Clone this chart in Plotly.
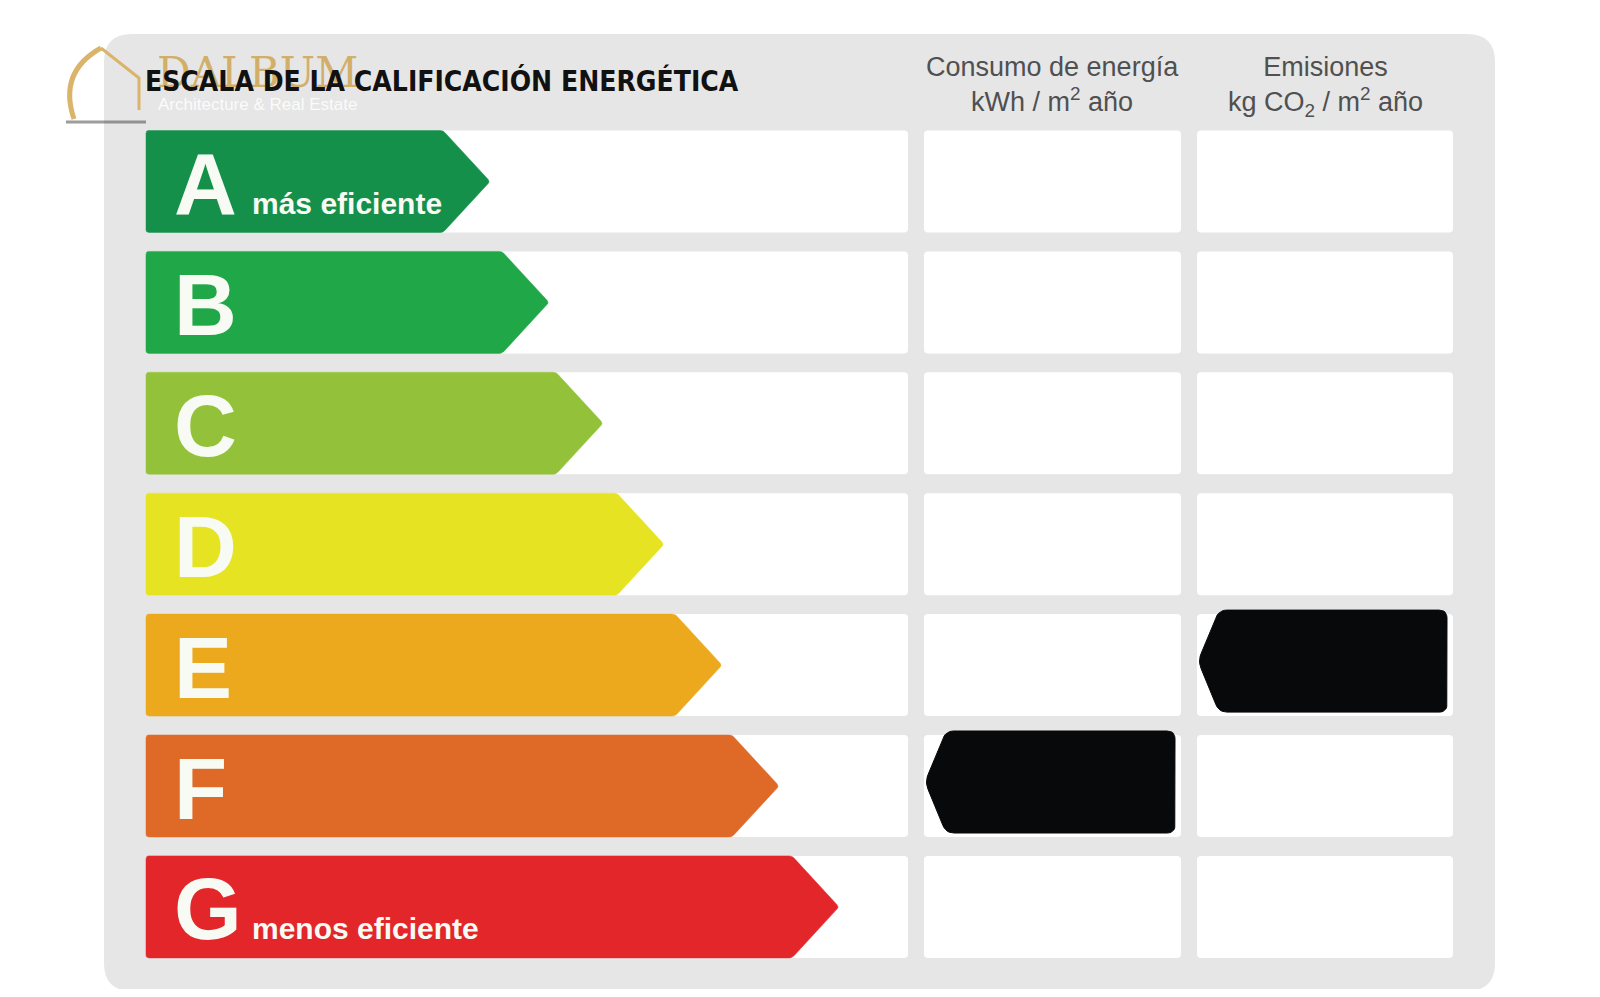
import plotly.graph_objects as go

# ---------------- data ----------------
ratings = ["A", "B", "C", "D", "E", "F", "G"]
rating_colors = ["#15904A", "#20A747", "#93C23A", "#E6E322", "#ECA91D", "#DF6926", "#E3262A"]
arrow_length = [344, 403, 457, 518, 576, 633, 693]        # length of each class arrow
end_labels = {"A": "más eficiente", "G": "menos eficiente"}
title_text = "ESCALA DE LA CALIFICACIÓN ENERGÉTICA"
column_headers = ["Consumo de energía<br>kWh / m<sup>2</sup> año",
                  "Emisiones<br>kg CO<sub>2</sub> / m<sup>2</sup> año"]
consumo_rating = "F"
emisiones_rating = "E"
watermark = "DALBUM"
watermark_sub = "Architecture & Real Estate"

# ---------------- layout geometry ----------------
W, H = 1600, 997
OFF = 8                      # page body margin compensation
ROW0, PITCH, ROW_H = 130.5, 120.9, 102
X0 = 146
LEFT_CELL_R = 908
COLS = [(924, 1181), (1197, 1453)]
TIP = 47
PANEL = (104, 34, 1495, 991)
GREY = "#E6E6E6"

fig = go.Figure()
shapes = []
annotations = []


def rrect(x0, y0, x1, y1, r):
    return (f"M {x0+r},{y0} L {x1-r},{y0} Q {x1},{y0} {x1},{y0+r} "
            f"L {x1},{y1-r} Q {x1},{y1} {x1-r},{y1} L {x0+r},{y1} "
            f"Q {x0},{y1} {x0},{y1-r} L {x0},{y0+r} Q {x0},{y0} {x0+r},{y0} Z")


def rounded_poly(xs, ys, r, n=6):
    """Round the corners of a closed polygon (given without repeated last point)."""
    import math
    out_x, out_y = [], []
    k = len(xs)
    for i in range(k):
        px, py = xs[i - 1], ys[i - 1]
        cx, cy = xs[i], ys[i]
        nx, ny = xs[(i + 1) % k], ys[(i + 1) % k]
        d1 = math.hypot(px - cx, py - cy)
        d2 = math.hypot(nx - cx, ny - cy)
        rr = min(r, d1 / 2, d2 / 2)
        ax, ay = cx + (px - cx) * rr / d1, cy + (py - cy) * rr / d1
        bx, by = cx + (nx - cx) * rr / d2, cy + (ny - cy) * rr / d2
        for j in range(n + 1):
            t = j / n
            out_x.append((1 - t) ** 2 * ax + 2 * (1 - t) * t * cx + t ** 2 * bx)
            out_y.append((1 - t) ** 2 * ay + 2 * (1 - t) * t * cy + t ** 2 * by)
    out_x.append(out_x[0])
    out_y.append(out_y[0])
    return out_x, out_y


# grey panel
shapes.append(dict(type="path", path=rrect(*PANEL, 28), fillcolor=GREY,
                   line=dict(width=0), layer="below"))

# white cells
for i, r in enumerate(ratings):
    top = ROW0 + i * PITCH
    bot = top + ROW_H
    shapes.append(dict(type="path", path=rrect(X0, top, LEFT_CELL_R, bot, 4),
                       fillcolor="white", line=dict(width=0), layer="below"))
    for (cx0, cx1) in COLS:
        shapes.append(dict(type="path", path=rrect(cx0, top, cx1, bot, 4),
                           fillcolor="white", line=dict(width=0), layer="below"))

# rating arrows
for i, (r, c, L) in enumerate(zip(ratings, rating_colors, arrow_length)):
    top = ROW0 + i * PITCH
    bot = top + ROW_H
    mid = (top + bot) / 2
    xs, ys = rounded_poly([X0, X0 + L - TIP, X0 + L, X0 + L - TIP, X0],
                          [top, top, mid, bot, bot], 3)
    fig.add_trace(go.Scatter(x=xs, y=ys, mode="lines", fill="toself", fillcolor=c,
                             line=dict(color=c, width=0.5), hoverinfo="skip",
                             showlegend=False))
    annotations.append(dict(x=X0 + 26, y=mid + 2, text=f"<b>{r}</b>", showarrow=False,
                            xanchor="left", yanchor="middle",
                            font=dict(family="Liberation Sans, Arial, sans-serif",
                                      size=87, color="#F7FBF4")))
    if r in end_labels:
        annotations.append(dict(x=X0 + 104, y=mid + 22, text=f"<b>{end_labels[r]}</b>",
                                showarrow=False, xanchor="left", yanchor="middle",
                                font=dict(family="Liberation Sans, Arial, sans-serif",
                                          size=30, color="#F7FBF4")))

# black indicator markers
for col_i, rating in enumerate([consumo_rating, emisiones_rating]):
    i = ratings.index(rating)
    cx0, cx1 = COLS[col_i]
    top = ROW0 + i * PITCH - 4
    bot = top + ROW_H
    mid = (top + bot) / 2
    left = cx0 + 1
    right = cx1 - 6
    xs, ys = rounded_poly([left, left + 21, right, right, left + 21],
                          [mid, top, top, bot, bot], 8)
    fig.add_trace(go.Scatter(x=xs, y=ys, mode="lines", fill="toself", fillcolor="#08090B",
                             line=dict(color="#08090B", width=1), hoverinfo="skip",
                             showlegend=False))

# headers
for k, ((cx0, cx1), txt) in enumerate(zip(COLS, column_headers)):
    annotations.append(dict(x=(cx0 + cx1) / 2, y=84 + 2 * k, text=txt, showarrow=False,
                            xanchor="center", yanchor="middle", align="center",
                            font=dict(family="Liberation Sans, Arial, sans-serif",
                                      size=27, color="#505050")))

# watermark logo (decorative)
shapes.append(dict(type="path", path="M 101,48 Q 58,72 74,119", line=dict(color="#D9B46A", width=5)))
shapes.append(dict(type="path", path="M 101,48 L 139,78 L 139,110", line=dict(color="#D9B46A", width=3)))
shapes.append(dict(type="path", path="M 66,122 L 146,122", line=dict(color="rgba(90,90,90,0.6)", width=3)))
annotations.append(dict(x=257, y=72, text=watermark, showarrow=False, xanchor="center",
                        yanchor="middle",
                        font=dict(family="DejaVu Serif, serif", size=42,
                                  color="rgba(205,160,70,0.8)")))

# title
annotations.append(dict(x=X0 - 3, y=81, text=f"<b>{title_text}</b>", showarrow=False,
                        xanchor="left", yanchor="middle",
                        font=dict(family="DejaVu Sans Condensed, Liberation Sans Narrow, Arial Narrow, sans-serif",
                                  size=28, color="#111111")))
annotations.append(dict(x=257, y=104, text=watermark_sub, showarrow=False, xanchor="center",
                        yanchor="middle",
                        font=dict(family="Liberation Sans, Arial, sans-serif", size=17,
                                  color="rgba(255,255,255,0.85)")))

fig.update_layout(
    width=W - 2 * OFF, height=H - 2 * OFF,
    margin=dict(l=0, r=0, t=0, b=0),
    paper_bgcolor="white", plot_bgcolor="white",
    xaxis=dict(range=[OFF, W - OFF], visible=False, fixedrange=True),
    yaxis=dict(range=[H - OFF, OFF], visible=False, fixedrange=True),
    shapes=shapes, annotations=annotations,
)

fig.write_html("out.html")
